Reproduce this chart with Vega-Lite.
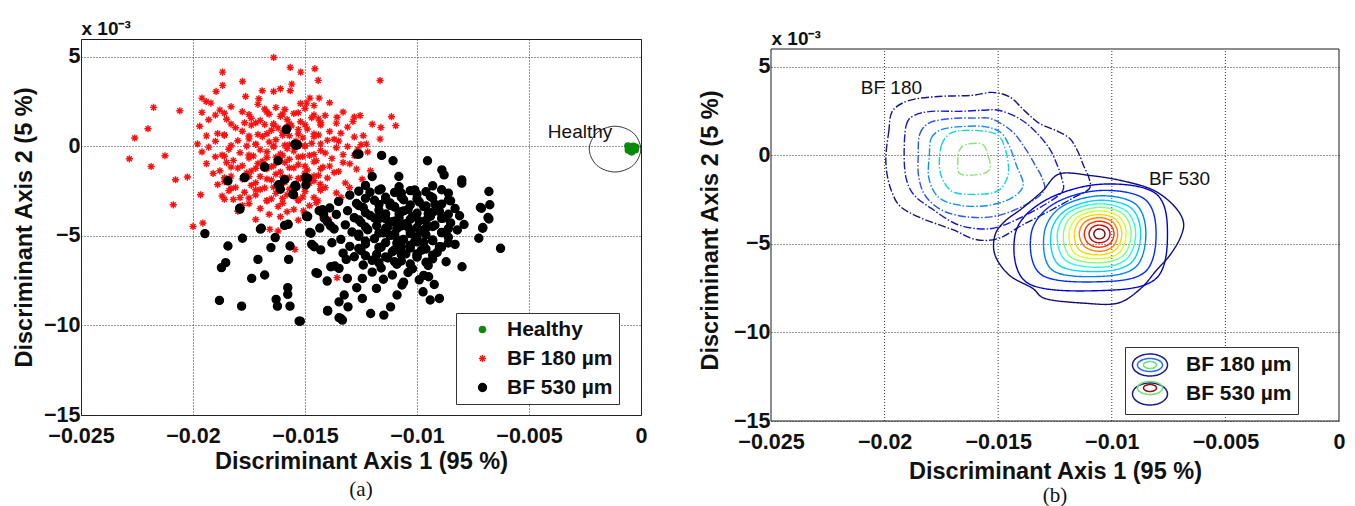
{
  "$schema": "https://vega.github.io/schema/vega-lite/v6.json",
  "background": "white",
  "padding": {"left": 12, "top": 18, "right": 0, "bottom": 0},
  "spacing": 50,
  "resolve": {
    "scale": {"fill": "independent", "stroke": "independent", "shape": "independent", "size": "independent", "color": "independent", "strokeDash": "independent"},
    "legend": {"fill": "independent", "stroke": "independent", "shape": "independent", "size": "independent", "color": "independent", "strokeDash": "independent"}
  },
  "config": {
    "view": {"stroke": "#1a1a1a", "strokeWidth": 1},
    "font": "Liberation Sans",
    "axis": {
      "labelFont": "Liberation Sans", "labelFontSize": 21.5, "labelFontWeight": "bold", "labelColor": "#111",
      "titleFont": "Liberation Sans", "titleFontSize": 23.5, "titleFontWeight": "bold", "titleColor": "#111",
      "ticks": false, "domain": false, "grid": true, "gridColor": "#333", "gridDash": [1, 2], "gridWidth": 1, "gridOpacity": 1,
      "labelOverlap": false, "labelFlush": false, "labelBound": false
    },
    "title": {"font": "Liberation Serif", "fontSize": 21, "fontWeight": "normal", "color": "#111"}
  },
  "datasets": {
    "scatter": [
      {"g":"BF 180 µm","x":-0.0192,"y":2.42},{"g":"BF 180 µm","x":-0.0183,"y":2.22},{"g":"BF 180 µm","x":-0.0171,"y":2.35},{"g":"BF 180 µm","x":-0.0163,"y":2.17},{"g":"BF 180 µm","x":-0.0152,"y":2.40},{"g":"BF 180 µm","x":-0.0146,"y":2.28},{"g":"BF 180 µm","x":-0.0139,"y":2.44},
      {"g":"BF 180 µm","x":-0.0196,"y":1.90},{"g":"BF 180 µm","x":-0.0188,"y":2.03},{"g":"BF 180 µm","x":-0.0178,"y":1.94},{"g":"BF 180 µm","x":-0.0168,"y":2.09},{"g":"BF 180 µm","x":-0.0159,"y":2.06},{"g":"BF 180 µm","x":-0.0150,"y":2.12},{"g":"BF 180 µm","x":-0.0133,"y":1.92},
      {"g":"BF 180 µm","x":-0.0190,"y":1.75},{"g":"BF 180 µm","x":-0.0174,"y":1.57},{"g":"BF 180 µm","x":-0.0166,"y":1.80},{"g":"BF 180 µm","x":-0.0161,"y":1.68},{"g":"BF 180 µm","x":-0.0155,"y":1.84},{"g":"BF 180 µm","x":-0.0147,"y":1.60},{"g":"BF 180 µm","x":-0.0141,"y":1.73},{"g":"BF 180 µm","x":-0.0128,"y":1.64},
      {"g":"BF 180 µm","x":-0.0193,"y":1.49},{"g":"BF 180 µm","x":-0.0185,"y":1.52},{"g":"BF 180 µm","x":-0.0177,"y":1.32},{"g":"BF 180 µm","x":-0.0170,"y":1.45},{"g":"BF 180 µm","x":-0.0164,"y":1.27},{"g":"BF 180 µm","x":-0.0158,"y":1.50},{"g":"BF 180 µm","x":-0.0152,"y":1.38},{"g":"BF 180 µm","x":-0.0144,"y":1.54},{"g":"BF 180 µm","x":-0.0136,"y":1.30},
      {"g":"BF 180 µm","x":-0.0197,"y":1.13},{"g":"BF 180 µm","x":-0.0181,"y":1.04},{"g":"BF 180 µm","x":-0.0174,"y":1.19},{"g":"BF 180 µm","x":-0.0168,"y":1.22},{"g":"BF 180 µm","x":-0.0162,"y":1.02},{"g":"BF 180 µm","x":-0.0156,"y":1.15},{"g":"BF 180 µm","x":-0.0149,"y":0.97},{"g":"BF 180 µm","x":-0.0143,"y":1.20},{"g":"BF 180 µm","x":-0.0131,"y":1.08},{"g":"BF 180 µm","x":-0.0120,"y":1.24},
      {"g":"BF 180 µm","x":-0.0189,"y":0.72},{"g":"BF 180 µm","x":-0.0178,"y":0.85},{"g":"BF 180 µm","x":-0.0171,"y":0.67},{"g":"BF 180 µm","x":-0.0165,"y":0.90},{"g":"BF 180 µm","x":-0.0160,"y":0.78},{"g":"BF 180 µm","x":-0.0153,"y":0.94},{"g":"BF 180 µm","x":-0.0146,"y":0.70},{"g":"BF 180 µm","x":-0.0139,"y":0.83},{"g":"BF 180 µm","x":-0.0134,"y":0.74},
      {"g":"BF 180 µm","x":-0.0194,"y":0.59},{"g":"BF 180 µm","x":-0.0186,"y":0.62},{"g":"BF 180 µm","x":-0.0175,"y":0.42},{"g":"BF 180 µm","x":-0.0169,"y":0.55},{"g":"BF 180 µm","x":-0.0163,"y":0.37},{"g":"BF 180 µm","x":-0.0157,"y":0.60},{"g":"BF 180 µm","x":-0.0151,"y":0.48},{"g":"BF 180 µm","x":-0.0144,"y":0.64},{"g":"BF 180 µm","x":-0.0137,"y":0.40},{"g":"BF 180 µm","x":-0.0128,"y":0.53},
      {"g":"BF 180 µm","x":-0.0198,"y":0.14},{"g":"BF 180 µm","x":-0.0190,"y":0.29},{"g":"BF 180 µm","x":-0.0180,"y":0.32},{"g":"BF 180 µm","x":-0.0172,"y":0.12},{"g":"BF 180 µm","x":-0.0166,"y":0.25},{"g":"BF 180 µm","x":-0.0159,"y":0.07},{"g":"BF 180 µm","x":-0.0154,"y":0.30},{"g":"BF 180 µm","x":-0.0147,"y":0.18},{"g":"BF 180 µm","x":-0.0140,"y":0.34},{"g":"BF 180 µm","x":-0.0125,"y":0.10},
      {"g":"BF 180 µm","x":-0.0193,"y":-0.04},{"g":"BF 180 µm","x":-0.0184,"y":-0.16},{"g":"BF 180 µm","x":-0.0176,"y":0.02},{"g":"BF 180 µm","x":-0.0170,"y":-0.19},{"g":"BF 180 µm","x":-0.0164,"y":0.03},{"g":"BF 180 µm","x":-0.0158,"y":-0.12},{"g":"BF 180 µm","x":-0.0150,"y":0.04},{"g":"BF 180 µm","x":-0.0143,"y":-0.23},{"g":"BF 180 µm","x":-0.0136,"y":-0.07},{"g":"BF 180 µm","x":-0.0131,"y":0.0},
      {"g":"BF 180 µm","x":-0.0196,"y":-0.31},{"g":"BF 180 µm","x":-0.0187,"y":-0.48},{"g":"BF 180 µm","x":-0.0179,"y":-0.35},{"g":"BF 180 µm","x":-0.0173,"y":-0.53},{"g":"BF 180 µm","x":-0.0167,"y":-0.30},{"g":"BF 180 µm","x":-0.0161,"y":-0.42},{"g":"BF 180 µm","x":-0.0155,"y":-0.26},{"g":"BF 180 µm","x":-0.0148,"y":-0.50},{"g":"BF 180 µm","x":-0.0141,"y":-0.37},{"g":"BF 180 µm","x":-0.0133,"y":-0.46},{"g":"BF 180 µm","x":-0.0122,"y":-0.31},
      {"g":"BF 180 µm","x":-0.0190,"y":-0.58},{"g":"BF 180 µm","x":-0.0182,"y":-0.78},{"g":"BF 180 µm","x":-0.0175,"y":-0.65},{"g":"BF 180 µm","x":-0.0169,"y":-0.83},{"g":"BF 180 µm","x":-0.0163,"y":-0.60},{"g":"BF 180 µm","x":-0.0157,"y":-0.72},{"g":"BF 180 µm","x":-0.0151,"y":-0.56},{"g":"BF 180 µm","x":-0.0145,"y":-0.80},{"g":"BF 180 µm","x":-0.0138,"y":-0.67},
      {"g":"BF 180 µm","x":-0.0194,"y":-0.96},{"g":"BF 180 µm","x":-0.0185,"y":-0.90},{"g":"BF 180 µm","x":-0.0178,"y":-1.08},{"g":"BF 180 µm","x":-0.0171,"y":-0.95},{"g":"BF 180 µm","x":-0.0165,"y":-1.13},{"g":"BF 180 µm","x":-0.0159,"y":-0.90},{"g":"BF 180 µm","x":-0.0153,"y":-1.02},{"g":"BF 180 µm","x":-0.0146,"y":-0.86},{"g":"BF 180 µm","x":-0.0139,"y":-1.10},{"g":"BF 180 µm","x":-0.0130,"y":-0.97},
      {"g":"BF 180 µm","x":-0.0188,"y":-1.36},{"g":"BF 180 µm","x":-0.0180,"y":-1.21},{"g":"BF 180 µm","x":-0.0174,"y":-1.38},{"g":"BF 180 µm","x":-0.0167,"y":-1.25},{"g":"BF 180 µm","x":-0.0161,"y":-1.43},{"g":"BF 180 µm","x":-0.0155,"y":-1.20},{"g":"BF 180 µm","x":-0.0149,"y":-1.32},{"g":"BF 180 µm","x":-0.0142,"y":-1.16},{"g":"BF 180 µm","x":-0.0135,"y":-1.40},{"g":"BF 180 µm","x":-0.0127,"y":-1.27},
      {"g":"BF 180 µm","x":-0.0191,"y":-1.51},{"g":"BF 180 µm","x":-0.0183,"y":-1.66},{"g":"BF 180 µm","x":-0.0176,"y":-1.48},{"g":"BF 180 µm","x":-0.0170,"y":-1.68},{"g":"BF 180 µm","x":-0.0163,"y":-1.55},{"g":"BF 180 µm","x":-0.0157,"y":-1.73},{"g":"BF 180 µm","x":-0.0150,"y":-1.50},{"g":"BF 180 µm","x":-0.0144,"y":-1.62},{"g":"BF 180 µm","x":-0.0137,"y":-1.46},
      {"g":"BF 180 µm","x":-0.0186,"y":-1.96},{"g":"BF 180 µm","x":-0.0178,"y":-1.81},{"g":"BF 180 µm","x":-0.0172,"y":-2.03},{"g":"BF 180 µm","x":-0.0165,"y":-1.88},{"g":"BF 180 µm","x":-0.0159,"y":-2.00},{"g":"BF 180 µm","x":-0.0152,"y":-1.80},{"g":"BF 180 µm","x":-0.0146,"y":-1.92},{"g":"BF 180 µm","x":-0.0140,"y":-1.76},{"g":"BF 180 µm","x":-0.0132,"y":-2.04},
      {"g":"BF 180 µm","x":-0.0189,"y":-2.13},{"g":"BF 180 µm","x":-0.0181,"y":-2.29},{"g":"BF 180 µm","x":-0.0174,"y":-2.17},{"g":"BF 180 µm","x":-0.0168,"y":-2.32},{"g":"BF 180 µm","x":-0.0161,"y":-2.10},{"g":"BF 180 µm","x":-0.0155,"y":-2.22},{"g":"BF 180 µm","x":-0.0148,"y":-2.06},{"g":"BF 180 µm","x":-0.0141,"y":-2.30},
      {"g":"BF 180 µm","x":-0.0184,"y":-2.47},{"g":"BF 180 µm","x":-0.0177,"y":-2.56},{"g":"BF 180 µm","x":-0.0170,"y":-2.41},{"g":"BF 180 µm","x":-0.0163,"y":-2.62},{"g":"BF 180 µm","x":-0.0156,"y":-2.38},{"g":"BF 180 µm","x":-0.0150,"y":-2.52},{"g":"BF 180 µm","x":-0.0143,"y":-2.36},{"g":"BF 180 µm","x":-0.0136,"y":-2.60},
      {"g":"BF 180 µm","x":-0.0187,"y":-2.77},{"g":"BF 180 µm","x":-0.0179,"y":-2.86},{"g":"BF 180 µm","x":-0.0172,"y":-2.71},{"g":"BF 180 µm","x":-0.0165,"y":-2.93},{"g":"BF 180 µm","x":-0.0158,"y":-2.70},{"g":"BF 180 µm","x":-0.0151,"y":-2.82},
      {"g":"BF 180 µm","x":-0.0182,"y":-2.96},{"g":"BF 180 µm","x":-0.0175,"y":-3.20},{"g":"BF 180 µm","x":-0.0167,"y":-3.04},{"g":"BF 180 µm","x":-0.0160,"y":-3.17},{"g":"BF 180 µm","x":-0.0153,"y":-3.02},{"g":"BF 180 µm","x":-0.0145,"y":-3.14},
      {"g":"BF 180 µm","x":-0.0178,"y":-3.30},{"g":"BF 180 µm","x":-0.0170,"y":-3.47},{"g":"BF 180 µm","x":-0.0162,"y":-3.36},{"g":"BF 180 µm","x":-0.0155,"y":-3.52},{"g":"BF 180 µm","x":-0.0148,"y":-3.31},
      {"g":"BF 180 µm","x":-0.0180,"y":-3.62},{"g":"BF 180 µm","x":-0.0166,"y":-3.79},{"g":"BF 180 µm","x":-0.0158,"y":-3.65},{"g":"BF 180 µm","x":-0.0150,"y":-3.83},
      {"g":"BF 180 µm","x":-0.0172,"y":-4.08},{"g":"BF 180 µm","x":-0.0161,"y":-3.93},{"g":"BF 180 µm","x":-0.0153,"y":-4.12},
      {"g":"BF 180 µm","x":-0.0186,"y":1.85},{"g":"BF 180 µm","x":-0.0175,"y":1.78},{"g":"BF 180 µm","x":-0.0167,"y":1.92},{"g":"BF 180 µm","x":-0.0160,"y":1.81},{"g":"BF 180 µm","x":-0.0153,"y":1.88},{"g":"BF 180 µm","x":-0.0146,"y":1.76},
      {"g":"BF 180 µm","x":-0.0183,"y":1.25},{"g":"BF 180 µm","x":-0.0172,"y":1.31},{"g":"BF 180 µm","x":-0.0164,"y":1.18},{"g":"BF 180 µm","x":-0.0157,"y":1.28},{"g":"BF 180 µm","x":-0.0150,"y":1.21},{"g":"BF 180 µm","x":-0.0143,"y":1.34},
      {"g":"BF 180 µm","x":-0.0186,"y":0.65},{"g":"BF 180 µm","x":-0.0175,"y":0.58},{"g":"BF 180 µm","x":-0.0167,"y":0.71},{"g":"BF 180 µm","x":-0.0160,"y":0.62},{"g":"BF 180 µm","x":-0.0153,"y":0.69},{"g":"BF 180 µm","x":-0.0146,"y":0.55},
      {"g":"BF 180 µm","x":-0.0183,"y":0.05},{"g":"BF 180 µm","x":-0.0172,"y":0.12},{"g":"BF 180 µm","x":-0.0164,"y":-0.02},{"g":"BF 180 µm","x":-0.0157,"y":0.09},{"g":"BF 180 µm","x":-0.0150,"y":0.01},{"g":"BF 180 µm","x":-0.0143,"y":0.14},
      {"g":"BF 180 µm","x":-0.0186,"y":-0.55},{"g":"BF 180 µm","x":-0.0175,"y":-0.48},{"g":"BF 180 µm","x":-0.0167,"y":-0.62},{"g":"BF 180 µm","x":-0.0160,"y":-0.51},{"g":"BF 180 µm","x":-0.0153,"y":-0.59},{"g":"BF 180 µm","x":-0.0146,"y":-0.45},
      {"g":"BF 180 µm","x":-0.0183,"y":-1.15},{"g":"BF 180 µm","x":-0.0172,"y":-1.22},{"g":"BF 180 µm","x":-0.0164,"y":-1.08},{"g":"BF 180 µm","x":-0.0157,"y":-1.19},{"g":"BF 180 µm","x":-0.0150,"y":-1.11},{"g":"BF 180 µm","x":-0.0143,"y":-1.25},
      {"g":"BF 180 µm","x":-0.0186,"y":-1.75},{"g":"BF 180 µm","x":-0.0175,"y":-1.68},{"g":"BF 180 µm","x":-0.0167,"y":-1.82},{"g":"BF 180 µm","x":-0.0160,"y":-1.71},{"g":"BF 180 µm","x":-0.0153,"y":-1.79},{"g":"BF 180 µm","x":-0.0146,"y":-1.65},
      {"g":"BF 180 µm","x":-0.0183,"y":-2.35},{"g":"BF 180 µm","x":-0.0172,"y":-2.42},{"g":"BF 180 µm","x":-0.0164,"y":-2.28},{"g":"BF 180 µm","x":-0.0157,"y":-2.39},{"g":"BF 180 µm","x":-0.0150,"y":-2.31},{"g":"BF 180 µm","x":-0.0143,"y":-2.45},
      {"g":"BF 180 µm","x":-0.0186,"y":-2.95},{"g":"BF 180 µm","x":-0.0175,"y":-2.88},{"g":"BF 180 µm","x":-0.0167,"y":-3.02},{"g":"BF 180 µm","x":-0.0160,"y":-2.91},{"g":"BF 180 µm","x":-0.0153,"y":-2.99},{"g":"BF 180 µm","x":-0.0146,"y":-2.85},
      {"g":"BF 180 µm","x":-0.02284,"y":-0.69},{"g":"BF 180 µm","x":-0.0226,"y":0.47},{"g":"BF 180 µm","x":-0.02201,"y":0.99},{"g":"BF 180 µm","x":-0.02176,"y":2.18},{"g":"BF 180 µm","x":-0.02187,"y":-1.12},{"g":"BF 180 µm","x":-0.02125,"y":-0.52},{"g":"BF 180 µm","x":-0.02059,"y":1.99},{"g":"BF 180 µm","x":-0.02078,"y":-1.86},{"g":"BF 180 µm","x":-0.02025,"y":-1.71},{"g":"BF 180 µm","x":-0.02088,"y":-3.26},{"g":"BF 180 µm","x":-0.0200,"y":-4.47},{"g":"BF 180 µm","x":-0.01966,"y":-2.70},{"g":"BF 180 µm","x":-0.01956,"y":-4.28},
      {"g":"BF 180 µm","x":-0.0164,"y":4.97},{"g":"BF 180 µm","x":-0.01868,"y":4.15},{"g":"BF 180 µm","x":-0.01566,"y":4.41},{"g":"BF 180 µm","x":-0.01519,"y":4.15},{"g":"BF 180 µm","x":-0.01456,"y":4.34},{"g":"BF 180 µm","x":-0.01441,"y":3.69},{"g":"BF 180 µm","x":-0.01779,"y":3.63},{"g":"BF 180 µm","x":-0.01868,"y":3.41},{"g":"BF 180 µm","x":-0.01897,"y":3.07},{"g":"BF 180 µm","x":-0.01691,"y":3.11},{"g":"BF 180 µm","x":-0.0164,"y":3.07},{"g":"BF 180 µm","x":-0.0161,"y":3.22},{"g":"BF 180 µm","x":-0.01559,"y":3.48},{"g":"BF 180 µm","x":-0.01566,"y":3.11},{"g":"BF 180 µm","x":-0.01765,"y":2.79},{"g":"BF 180 µm","x":-0.01706,"y":2.66},{"g":"BF 180 µm","x":-0.0196,"y":2.70},{"g":"BF 180 µm","x":-0.01941,"y":2.51},{"g":"BF 180 µm","x":-0.01478,"y":2.70},{"g":"BF 180 µm","x":-0.01437,"y":2.70},{"g":"BF 180 µm","x":-0.01493,"y":2.42},
      {"g":"BF 180 µm","x":-0.01165,"y":3.68},{"g":"BF 180 µm","x":-0.01114,"y":1.66},{"g":"BF 180 µm","x":-0.01095,"y":1.16},{"g":"BF 180 µm","x":-0.01161,"y":1.06},{"g":"BF 180 µm","x":-0.01165,"y":0.41},{"g":"BF 180 µm","x":-0.01357,"y":1.63},{"g":"BF 180 µm","x":-0.01254,"y":1.72},{"g":"BF 180 µm","x":-0.01286,"y":1.40},{"g":"BF 180 µm","x":-0.01226,"y":0.13},{"g":"BF 180 µm","x":-0.01264,"y":-0.15},{"g":"BF 180 µm","x":-0.01208,"y":-1.36},{"g":"BF 180 µm","x":-0.01545,"y":-5.75},{"g":"BF 180 µm","x":-0.01357,"y":-7.33},{"g":"BF 180 µm","x":-0.01442,"y":-3.04},{"g":"BF 180 µm","x":-0.01395,"y":-4.07},{"g":"BF 180 µm","x":-0.01657,"y":-4.63},{"g":"BF 180 µm","x":-0.01301,"y":-2.29},{"g":"BF 180 µm","x":-0.01245,"y":-1.83},{"g":"BF 180 µm","x":-0.01339,"y":-2.85},{"g":"BF 180 µm","x":-0.01507,"y":-3.60},{"g":"BF 180 µm","x":-0.01432,"y":-2.11},{"g":"BF 180 µm","x":-0.0162,"y":-4.72},{"g":"BF 180 µm","x":-0.0133,"y":-0.9},{"g":"BF 180 µm","x":-0.0128,"y":-0.5},{"g":"BF 180 µm","x":-0.0124,"y":0.6},{"g":"BF 180 µm","x":-0.0135,"y":0.3},

      {"g":"BF 530 µm","x":-0.0123,"y":-2.18},{"g":"BF 530 µm","x":-0.0116,"y":-2.38},{"g":"BF 530 µm","x":-0.0108,"y":-2.25},{"g":"BF 530 µm","x":-0.0101,"y":-2.43},{"g":"BF 530 µm","x":-0.0093,"y":-2.20},
      {"g":"BF 530 µm","x":-0.0130,"y":-2.72},{"g":"BF 530 µm","x":-0.0121,"y":-2.56},{"g":"BF 530 µm","x":-0.0114,"y":-2.84},{"g":"BF 530 µm","x":-0.0107,"y":-2.60},{"g":"BF 530 µm","x":-0.0100,"y":-2.67},{"g":"BF 530 µm","x":-0.0094,"y":-2.79},{"g":"BF 530 µm","x":-0.0086,"y":-2.61},
      {"g":"BF 530 µm","x":-0.0135,"y":-3.07},{"g":"BF 530 µm","x":-0.0127,"y":-3.19},{"g":"BF 530 µm","x":-0.0119,"y":-3.01},{"g":"BF 530 µm","x":-0.0112,"y":-3.16},{"g":"BF 530 µm","x":-0.0106,"y":-2.98},{"g":"BF 530 µm","x":-0.0099,"y":-3.10},{"g":"BF 530 µm","x":-0.0092,"y":-3.23},{"g":"BF 530 µm","x":-0.0085,"y":-3.04},
      {"g":"BF 530 µm","x":-0.0139,"y":-3.44},{"g":"BF 530 µm","x":-0.0131,"y":-3.59},{"g":"BF 530 µm","x":-0.0124,"y":-3.41},{"g":"BF 530 µm","x":-0.0117,"y":-3.56},{"g":"BF 530 µm","x":-0.0110,"y":-3.38},{"g":"BF 530 µm","x":-0.0104,"y":-3.52},{"g":"BF 530 µm","x":-0.0097,"y":-3.36},{"g":"BF 530 µm","x":-0.0090,"y":-3.63},{"g":"BF 530 µm","x":-0.0083,"y":-3.47},
      {"g":"BF 530 µm","x":-0.0136,"y":-3.80},{"g":"BF 530 µm","x":-0.0128,"y":-3.98},{"g":"BF 530 µm","x":-0.0121,"y":-3.85},{"g":"BF 530 µm","x":-0.0114,"y":-4.03},{"g":"BF 530 µm","x":-0.0108,"y":-3.78},{"g":"BF 530 µm","x":-0.0102,"y":-3.92},{"g":"BF 530 µm","x":-0.0095,"y":-3.76},{"g":"BF 530 µm","x":-0.0088,"y":-4.00},{"g":"BF 530 µm","x":-0.0081,"y":-3.87},
      {"g":"BF 530 µm","x":-0.0140,"y":-4.21},{"g":"BF 530 µm","x":-0.0132,"y":-4.38},{"g":"BF 530 µm","x":-0.0125,"y":-4.25},{"g":"BF 530 µm","x":-0.0118,"y":-4.43},{"g":"BF 530 µm","x":-0.0111,"y":-4.20},{"g":"BF 530 µm","x":-0.0105,"y":-4.32},{"g":"BF 530 µm","x":-0.0099,"y":-4.16},{"g":"BF 530 µm","x":-0.0092,"y":-4.40},{"g":"BF 530 µm","x":-0.0085,"y":-4.27},{"g":"BF 530 µm","x":-0.0079,"y":-4.36},
      {"g":"BF 530 µm","x":-0.0137,"y":-4.61},{"g":"BF 530 µm","x":-0.0129,"y":-4.78},{"g":"BF 530 µm","x":-0.0122,"y":-4.65},{"g":"BF 530 µm","x":-0.0115,"y":-4.83},{"g":"BF 530 µm","x":-0.0109,"y":-4.60},{"g":"BF 530 µm","x":-0.0103,"y":-4.72},{"g":"BF 530 µm","x":-0.0096,"y":-4.56},{"g":"BF 530 µm","x":-0.0089,"y":-4.80},{"g":"BF 530 µm","x":-0.0082,"y":-4.67},
      {"g":"BF 530 µm","x":-0.0134,"y":-5.19},{"g":"BF 530 µm","x":-0.0126,"y":-5.02},{"g":"BF 530 µm","x":-0.0119,"y":-5.15},{"g":"BF 530 µm","x":-0.0112,"y":-4.97},{"g":"BF 530 µm","x":-0.0106,"y":-5.20},{"g":"BF 530 µm","x":-0.0100,"y":-5.04},{"g":"BF 530 µm","x":-0.0093,"y":-5.23},{"g":"BF 530 µm","x":-0.0086,"y":-5.07},
      {"g":"BF 530 µm","x":-0.0138,"y":-5.38},{"g":"BF 530 µm","x":-0.0130,"y":-5.58},{"g":"BF 530 µm","x":-0.0123,"y":-5.45},{"g":"BF 530 µm","x":-0.0116,"y":-5.63},{"g":"BF 530 µm","x":-0.0109,"y":-5.40},{"g":"BF 530 µm","x":-0.0103,"y":-5.52},{"g":"BF 530 µm","x":-0.0097,"y":-5.36},{"g":"BF 530 µm","x":-0.0090,"y":-5.60},{"g":"BF 530 µm","x":-0.0083,"y":-5.47},
      {"g":"BF 530 µm","x":-0.0133,"y":-5.96},{"g":"BF 530 µm","x":-0.0125,"y":-5.81},{"g":"BF 530 µm","x":-0.0118,"y":-6.03},{"g":"BF 530 µm","x":-0.0111,"y":-5.88},{"g":"BF 530 µm","x":-0.0105,"y":-6.00},{"g":"BF 530 µm","x":-0.0098,"y":-5.80},{"g":"BF 530 µm","x":-0.0091,"y":-5.92},
      {"g":"BF 530 µm","x":-0.0128,"y":-6.16},{"g":"BF 530 µm","x":-0.0120,"y":-6.36},{"g":"BF 530 µm","x":-0.0113,"y":-6.23},{"g":"BF 530 µm","x":-0.0107,"y":-6.40},{"g":"BF 530 µm","x":-0.0100,"y":-6.18},{"g":"BF 530 µm","x":-0.0093,"y":-6.28},{"g":"BF 530 µm","x":-0.0087,"y":-6.44},
      {"g":"BF 530 µm","x":-0.0124,"y":-6.62},{"g":"BF 530 µm","x":-0.0116,"y":-6.79},{"g":"BF 530 µm","x":-0.0109,"y":-6.58},{"g":"BF 530 µm","x":-0.0102,"y":-6.83},{"g":"BF 530 µm","x":-0.0095,"y":-6.65},
      {"g":"BF 530 µm","x":-0.0120,"y":-7.02},{"g":"BF 530 µm","x":-0.0111,"y":-7.18},{"g":"BF 530 µm","x":-0.0104,"y":-7.04},{"g":"BF 530 µm","x":-0.0097,"y":-7.20},
      {"g":"BF 530 µm","x":-0.0115,"y":-7.42},{"g":"BF 530 µm","x":-0.0106,"y":-7.58},{"g":"BF 530 µm","x":-0.0099,"y":-7.45},
      {"g":"BF 530 µm","x":-0.0108,"y":-4.0},{"g":"BF 530 µm","x":-0.0104,"y":-4.5},{"g":"BF 530 µm","x":-0.0110,"y":-4.9},{"g":"BF 530 µm","x":-0.0101,"y":-5.3},{"g":"BF 530 µm","x":-0.0106,"y":-3.6},{"g":"BF 530 µm","x":-0.0113,"y":-4.5},{"g":"BF 530 µm","x":-0.0098,"y":-4.7},{"g":"BF 530 µm","x":-0.0107,"y":-5.6},{"g":"BF 530 µm","x":-0.0119,"y":-4.0},{"g":"BF 530 µm","x":-0.0094,"y":-3.9},{"g":"BF 530 µm","x":-0.0112,"y":-3.3},{"g":"BF 530 µm","x":-0.0100,"y":-6.0},
      {"g":"BF 530 µm","x":-0.0126,"y":-2.50},{"g":"BF 530 µm","x":-0.0117,"y":-2.44},{"g":"BF 530 µm","x":-0.0110,"y":-2.57},{"g":"BF 530 µm","x":-0.0103,"y":-2.47},{"g":"BF 530 µm","x":-0.0096,"y":-2.53},{"g":"BF 530 µm","x":-0.0089,"y":-2.42},
      {"g":"BF 530 µm","x":-0.0123,"y":-2.90},{"g":"BF 530 µm","x":-0.0114,"y":-2.97},{"g":"BF 530 µm","x":-0.0107,"y":-2.84},{"g":"BF 530 µm","x":-0.0100,"y":-2.93},{"g":"BF 530 µm","x":-0.0093,"y":-2.87},{"g":"BF 530 µm","x":-0.0086,"y":-2.99},
      {"g":"BF 530 µm","x":-0.0126,"y":-3.30},{"g":"BF 530 µm","x":-0.0117,"y":-3.24},{"g":"BF 530 µm","x":-0.0110,"y":-3.37},{"g":"BF 530 µm","x":-0.0103,"y":-3.27},{"g":"BF 530 µm","x":-0.0096,"y":-3.33},{"g":"BF 530 µm","x":-0.0089,"y":-3.22},
      {"g":"BF 530 µm","x":-0.0123,"y":-3.70},{"g":"BF 530 µm","x":-0.0114,"y":-3.77},{"g":"BF 530 µm","x":-0.0107,"y":-3.64},{"g":"BF 530 µm","x":-0.0100,"y":-3.73},{"g":"BF 530 µm","x":-0.0093,"y":-3.67},{"g":"BF 530 µm","x":-0.0086,"y":-3.79},
      {"g":"BF 530 µm","x":-0.0126,"y":-4.10},{"g":"BF 530 µm","x":-0.0117,"y":-4.04},{"g":"BF 530 µm","x":-0.0110,"y":-4.17},{"g":"BF 530 µm","x":-0.0103,"y":-4.07},{"g":"BF 530 µm","x":-0.0096,"y":-4.13},{"g":"BF 530 µm","x":-0.0089,"y":-4.02},
      {"g":"BF 530 µm","x":-0.0123,"y":-4.50},{"g":"BF 530 µm","x":-0.0114,"y":-4.57},{"g":"BF 530 µm","x":-0.0107,"y":-4.44},{"g":"BF 530 µm","x":-0.0100,"y":-4.53},{"g":"BF 530 µm","x":-0.0093,"y":-4.47},{"g":"BF 530 µm","x":-0.0086,"y":-4.59},
      {"g":"BF 530 µm","x":-0.0126,"y":-4.90},{"g":"BF 530 µm","x":-0.0117,"y":-4.84},{"g":"BF 530 µm","x":-0.0110,"y":-4.97},{"g":"BF 530 µm","x":-0.0103,"y":-4.87},{"g":"BF 530 µm","x":-0.0096,"y":-4.93},{"g":"BF 530 µm","x":-0.0089,"y":-4.82},
      {"g":"BF 530 µm","x":-0.0123,"y":-5.30},{"g":"BF 530 µm","x":-0.0114,"y":-5.37},{"g":"BF 530 µm","x":-0.0107,"y":-5.24},{"g":"BF 530 µm","x":-0.0100,"y":-5.33},{"g":"BF 530 µm","x":-0.0093,"y":-5.27},{"g":"BF 530 µm","x":-0.0086,"y":-5.39},
      {"g":"BF 530 µm","x":-0.0126,"y":-5.70},{"g":"BF 530 µm","x":-0.0117,"y":-5.64},{"g":"BF 530 µm","x":-0.0110,"y":-5.77},{"g":"BF 530 µm","x":-0.0103,"y":-5.67},{"g":"BF 530 µm","x":-0.0096,"y":-5.73},{"g":"BF 530 µm","x":-0.0089,"y":-5.62},
      {"g":"BF 530 µm","x":-0.0123,"y":-6.10},{"g":"BF 530 µm","x":-0.0114,"y":-6.17},{"g":"BF 530 µm","x":-0.0107,"y":-6.04},{"g":"BF 530 µm","x":-0.0100,"y":-6.13},{"g":"BF 530 µm","x":-0.0093,"y":-6.07},
      {"g":"BF 530 µm","x":-0.0117,"y":-6.50},{"g":"BF 530 µm","x":-0.0110,"y":-6.44},{"g":"BF 530 µm","x":-0.0103,"y":-6.57},{"g":"BF 530 µm","x":-0.0096,"y":-6.47},
      {"g":"BF 530 µm","x":-0.00953,"y":-0.80},{"g":"BF 530 µm","x":-0.00889,"y":-1.31},{"g":"BF 530 µm","x":-0.00879,"y":-1.59},{"g":"BF 530 µm","x":-0.008,"y":-1.87},{"g":"BF 530 µm","x":-0.008,"y":-2.05},{"g":"BF 530 µm","x":-0.00679,"y":-2.52},{"g":"BF 530 µm","x":-0.00675,"y":-3.26},{"g":"BF 530 µm","x":-0.00712,"y":-3.45},{"g":"BF 530 µm","x":-0.00679,"y":-4.05},{"g":"BF 530 µm","x":-0.00707,"y":-4.57},{"g":"BF 530 µm","x":-0.00724,"y":-5.13},{"g":"BF 530 µm","x":-0.00627,"y":-5.69},{"g":"BF 530 µm","x":-0.00799,"y":-6.72},{"g":"BF 530 µm","x":-0.00923,"y":-7.71},{"g":"BF 530 µm","x":-0.009,"y":-8.49},{"g":"BF 530 µm","x":-0.00941,"y":-8.58},{"g":"BF 530 µm","x":-0.01118,"y":-8.96},{"g":"BF 530 µm","x":-0.01207,"y":-9.33},{"g":"BF 530 µm","x":-0.0134,"y":-9.61},{"g":"BF 530 µm","x":-0.01333,"y":-9.70},{"g":"BF 530 µm","x":-0.01399,"y":-9.20},{"g":"BF 530 µm","x":-0.01308,"y":-8.96},{"g":"BF 530 µm","x":-0.01348,"y":-8.68},{"g":"BF 530 µm","x":-0.01244,"y":-8.49},{"g":"BF 530 µm","x":-0.01181,"y":-7.93},{"g":"BF 530 µm","x":-0.01269,"y":-7.89},{"g":"BF 530 µm","x":-0.01325,"y":-8.30},{"g":"BF 530 µm","x":-0.01148,"y":-9.42},{"g":"BF 530 µm","x":-0.01089,"y":-8.30},{"g":"BF 530 µm","x":-0.01067,"y":-7.74},{"g":"BF 530 µm","x":-0.00973,"y":-8.12},{"g":"BF 530 µm","x":-0.00948,"y":-7.28},{"g":"BF 530 µm","x":-0.01444,"y":-7.09},{"g":"BF 530 µm","x":-0.01385,"y":-6.72},{"g":"BF 530 µm","x":-0.01348,"y":-6.81},{"g":"BF 530 µm","x":-0.01311,"y":-7.37},{"g":"BF 530 µm","x":-0.01244,"y":-7.37},{"g":"BF 530 µm","x":-0.01521,"y":-9.76},{"g":"BF 530 µm","x":-0.01259,"y":-0.43},{"g":"BF 530 µm","x":-0.01158,"y":-0.50},{"g":"BF 530 µm","x":-0.01107,"y":-0.80},{"g":"BF 530 µm","x":-0.01081,"y":-1.68},{"g":"BF 530 µm","x":-0.012,"y":-1.68},{"g":"BF 530 µm","x":-0.01533,"y":0.09},{"g":"BF 530 µm","x":-0.01488,"y":-1.77},{"g":"BF 530 µm","x":-0.0154,"y":-2.24},{"g":"BF 530 µm","x":-0.01488,"y":-3.92},{"g":"BF 530 µm","x":-0.01422,"y":-3.54},{"g":"BF 530 µm","x":-0.01414,"y":-4.01},{"g":"BF 530 µm","x":-0.01473,"y":-4.85},{"g":"BF 530 µm","x":-0.01459,"y":-5.60},{"g":"BF 530 µm","x":-0.0143,"y":-5.78},
      {"g":"BF 530 µm","x":-0.01947,"y":-4.87},{"g":"BF 530 µm","x":-0.01844,"y":-1.92},{"g":"BF 530 µm","x":-0.01844,"y":-5.56},{"g":"BF 530 µm","x":-0.01854,"y":-6.49},{"g":"BF 530 µm","x":-0.01873,"y":-6.77},{"g":"BF 530 µm","x":-0.01882,"y":-8.60},{"g":"BF 530 µm","x":-0.01779,"y":-5.13},{"g":"BF 530 µm","x":-0.01783,"y":-8.92},{"g":"BF 530 µm","x":-0.01792,"y":-3.45},{"g":"BF 530 µm","x":-0.0177,"y":-1.74},{"g":"BF 530 µm","x":-0.01738,"y":-7.37},{"g":"BF 530 µm","x":-0.0171,"y":-6.31},{"g":"BF 530 µm","x":-0.01695,"y":-4.57},{"g":"BF 530 µm","x":-0.0168,"y":-7.18},{"g":"BF 530 µm","x":-0.0168,"y":-1.14},{"g":"BF 530 µm","x":-0.01652,"y":-5.65},{"g":"BF 530 µm","x":-0.01633,"y":-5.09},{"g":"BF 530 µm","x":-0.01629,"y":-8.54},{"g":"BF 530 µm","x":-0.01623,"y":-8.92},{"g":"BF 530 µm","x":-0.01614,"y":-2.16},{"g":"BF 530 µm","x":-0.0161,"y":-2.39},{"g":"BF 530 µm","x":-0.0162,"y":-0.80},{"g":"BF 530 µm","x":-0.01582,"y":0.97},{"g":"BF 530 µm","x":-0.01545,"y":0.13},{"g":"BF 530 µm","x":-0.01575,"y":-4.35},{"g":"BF 530 µm","x":-0.01567,"y":-5.56},{"g":"BF 530 µm","x":-0.01573,"y":-6.31},{"g":"BF 530 µm","x":-0.01577,"y":-7.89},{"g":"BF 530 µm","x":-0.01577,"y":-8.26},{"g":"BF 530 µm","x":-0.01567,"y":-8.92},{"g":"BF 530 µm","x":-0.01554,"y":-2.67},{"g":"BF 530 µm","x":-0.01545,"y":-2.20},{"g":"BF 530 µm","x":-0.01526,"y":-9.76},{"g":"BF 530 µm","x":-0.01498,"y":-1.74},{"g":"BF 530 µm","x":-0.01492,"y":-3.88},{"g":"BF 530 µm","x":-0.01479,"y":-4.81},{"g":"BF 530 µm","x":-0.0147,"y":-5.47},{"g":"BF 530 µm","x":-0.01451,"y":-7.05},{"g":"BF 530 µm","x":-0.01417,"y":-3.79},{"g":"BF 530 µm","x":-0.01401,"y":-7.52},{"g":"BF 530 µm","x":-0.01399,"y":-9.16},{"g":"BF 530 µm","x":-0.01386,"y":-4.44},{"g":"BF 530 µm","x":-0.01367,"y":-6.68},{"g":"BF 530 µm","x":-0.01348,"y":-9.57},{"g":"BF 530 µm","x":-0.01316,"y":-6.31},{"g":"BF 530 µm","x":-0.01268,"y":-0.43},
      {"g":"BF 530 µm","x":-0.01681,"y":-1.15},{"g":"BF 530 µm","x":-0.01769,"y":-1.73},{"g":"BF 530 µm","x":-0.01591,"y":-1.86},{"g":"BF 530 µm","x":-0.01618,"y":-2.14},{"g":"BF 530 µm","x":-0.01544,"y":-2.18},{"g":"BF 530 µm","x":-0.01551,"y":-2.70},{"g":"BF 530 µm","x":-0.01493,"y":-1.81},{"g":"BF 530 µm","x":-0.01496,"y":-2.14},{"g":"BF 530 µm","x":-0.0179,"y":-3.50},{"g":"BF 530 µm","x":-0.01699,"y":-4.62},{"g":"BF 530 µm","x":-0.01591,"y":-4.41},{"g":"BF 530 µm","x":-0.01493,"y":-3.91},{"g":"BF 530 µm","x":-0.01437,"y":-3.59},{"g":"BF 530 µm","x":-0.01434,"y":-4.56},{"g":"BF 530 µm","x":-0.01584,"y":0.93},{"g":"BF 530 µm","x":-0.01541,"y":0.06},{"g":"BF 530 µm","x":-0.00717,"y":-3.41},{"g":"BF 530 µm","x":-0.00683,"y":-3.97},{"g":"BF 530 µm","x":-0.00706,"y":-4.53},
      {"g":"Healthy","x":-0.00045,"y":-0.12},{"g":"Healthy","x":-0.00034,"y":0.0},{"g":"Healthy","x":-0.00056,"y":-0.2},{"g":"Healthy","x":-0.00026,"y":-0.18},{"g":"Healthy","x":-0.00042,"y":-0.3},{"g":"Healthy","x":-0.00058,"y":0.02},{"g":"Healthy","x":-0.00024,"y":-0.05}
    ],
    "ring": [
      {"i":0,"x":-0.00001,"y":-0.15},{"i":1,"x":-0.00035,"y":0.755},{"i":2,"x":-0.00116,"y":1.13},{"i":3,"x":-0.00197,"y":0.755},{"i":4,"x":-0.00231,"y":-0.15},{"i":5,"x":-0.00197,"y":-1.055},{"i":6,"x":-0.00116,"y":-1.43},{"i":7,"x":-0.00035,"y":-1.055}
    ],
    "contours": [
      {"c":"C1","g":"BF 180 µm","i":0,"x":-0.01994,"y":0.0},{"c":"C1","g":"BF 180 µm","i":1,"x":-0.01982,"y":1.3},{"c":"C1","g":"BF 180 µm","i":2,"x":-0.01965,"y":2.5},{"c":"C1","g":"BF 180 µm","i":3,"x":-0.0189,"y":3.1},{"c":"C1","g":"BF 180 µm","i":4,"x":-0.01763,"y":3.32},{"c":"C1","g":"BF 180 µm","i":5,"x":-0.01616,"y":3.38},{"c":"C1","g":"BF 180 µm","i":6,"x":-0.01528,"y":3.55},{"c":"C1","g":"BF 180 µm","i":7,"x":-0.0145,"y":3.3},{"c":"C1","g":"BF 180 µm","i":8,"x":-0.01381,"y":2.48},{"c":"C1","g":"BF 180 µm","i":9,"x":-0.01319,"y":1.8},{"c":"C1","g":"BF 180 µm","i":10,"x":-0.01248,"y":1.41},{"c":"C1","g":"BF 180 µm","i":11,"x":-0.01186,"y":0.96},{"c":"C1","g":"BF 180 µm","i":12,"x":-0.0115,"y":0.23},{"c":"C1","g":"BF 180 µm","i":13,"x":-0.01125,"y":-0.56},{"c":"C1","g":"BF 180 µm","i":14,"x":-0.011,"y":-1.3},{"c":"C1","g":"BF 180 µm","i":15,"x":-0.011,"y":-1.9},{"c":"C1","g":"BF 180 µm","i":16,"x":-0.01172,"y":-2.42},{"c":"C1","g":"BF 180 µm","i":17,"x":-0.01275,"y":-3.15},{"c":"C1","g":"BF 180 µm","i":18,"x":-0.01394,"y":-3.94},{"c":"C1","g":"BF 180 µm","i":19,"x":-0.015,"y":-4.7},{"c":"C1","g":"BF 180 µm","i":20,"x":-0.016,"y":-4.75},{"c":"C1","g":"BF 180 µm","i":21,"x":-0.017,"y":-4.2},{"c":"C1","g":"BF 180 µm","i":22,"x":-0.01838,"y":-3.55},{"c":"C1","g":"BF 180 µm","i":23,"x":-0.0193,"y":-2.9},{"c":"C1","g":"BF 180 µm","i":24,"x":-0.0197,"y":-2.0},{"c":"C1","g":"BF 180 µm","i":25,"x":-0.0199,"y":-1.0},
      {"c":"C2","g":"BF 180 µm","i":0,"x":-0.01914,"y":0.06},{"c":"C2","g":"BF 180 µm","i":1,"x":-0.01905,"y":1.69},{"c":"C2","g":"BF 180 µm","i":2,"x":-0.0187,"y":2.25},{"c":"C2","g":"BF 180 µm","i":3,"x":-0.01794,"y":2.48},{"c":"C2","g":"BF 180 µm","i":4,"x":-0.01674,"y":2.48},{"c":"C2","g":"BF 180 µm","i":5,"x":-0.01572,"y":2.54},{"c":"C2","g":"BF 180 µm","i":6,"x":-0.01497,"y":2.54},{"c":"C2","g":"BF 180 µm","i":7,"x":-0.01408,"y":2.08},{"c":"C2","g":"BF 180 µm","i":8,"x":-0.01337,"y":1.35},{"c":"C2","g":"BF 180 µm","i":9,"x":-0.01275,"y":0.39},{"c":"C2","g":"BF 180 µm","i":10,"x":-0.0124,"y":-0.56},{"c":"C2","g":"BF 180 µm","i":11,"x":-0.0122,"y":-1.3},{"c":"C2","g":"BF 180 µm","i":12,"x":-0.01217,"y":-2.03},{"c":"C2","g":"BF 180 µm","i":13,"x":-0.0129,"y":-2.75},{"c":"C2","g":"BF 180 µm","i":14,"x":-0.0139,"y":-3.45},{"c":"C2","g":"BF 180 µm","i":15,"x":-0.015,"y":-4.05},{"c":"C2","g":"BF 180 µm","i":16,"x":-0.0159,"y":-4.15},{"c":"C2","g":"BF 180 µm","i":17,"x":-0.0169,"y":-3.85},{"c":"C2","g":"BF 180 µm","i":18,"x":-0.01794,"y":-3.0},{"c":"C2","g":"BF 180 µm","i":19,"x":-0.0187,"y":-2.25},{"c":"C2","g":"BF 180 µm","i":20,"x":-0.01905,"y":-1.3},
      {"c":"C3","g":"BF 180 µm","i":0,"x":-0.01852,"y":0.0},{"c":"C3","g":"BF 180 µm","i":1,"x":-0.01845,"y":1.2},{"c":"C3","g":"BF 180 µm","i":2,"x":-0.018,"y":1.85},{"c":"C3","g":"BF 180 µm","i":3,"x":-0.017,"y":2.08},{"c":"C3","g":"BF 180 µm","i":4,"x":-0.016,"y":2.1},{"c":"C3","g":"BF 180 µm","i":5,"x":-0.01528,"y":2.05},{"c":"C3","g":"BF 180 µm","i":6,"x":-0.01439,"y":1.35},{"c":"C3","g":"BF 180 µm","i":7,"x":-0.01381,"y":0.39},{"c":"C3","g":"BF 180 µm","i":8,"x":-0.01337,"y":-0.56},{"c":"C3","g":"BF 180 µm","i":9,"x":-0.01306,"y":-1.3},{"c":"C3","g":"BF 180 µm","i":10,"x":-0.013,"y":-2.03},{"c":"C3","g":"BF 180 µm","i":11,"x":-0.0138,"y":-2.8},{"c":"C3","g":"BF 180 µm","i":12,"x":-0.015,"y":-3.4},{"c":"C3","g":"BF 180 µm","i":13,"x":-0.0162,"y":-3.5},{"c":"C3","g":"BF 180 µm","i":14,"x":-0.0174,"y":-3.15},{"c":"C3","g":"BF 180 µm","i":15,"x":-0.0182,"y":-2.3},{"c":"C3","g":"BF 180 µm","i":16,"x":-0.0185,"y":-1.2},
      {"c":"C4","g":"BF 180 µm","i":0,"x":-0.01803,"y":0.0},{"c":"C4","g":"BF 180 µm","i":1,"x":-0.01795,"y":0.95},{"c":"C4","g":"BF 180 µm","i":2,"x":-0.0175,"y":1.45},{"c":"C4","g":"BF 180 µm","i":3,"x":-0.0166,"y":1.62},{"c":"C4","g":"BF 180 µm","i":4,"x":-0.0156,"y":1.62},{"c":"C4","g":"BF 180 µm","i":5,"x":-0.0149,"y":1.3},{"c":"C4","g":"BF 180 µm","i":6,"x":-0.01452,"y":0.56},{"c":"C4","g":"BF 180 µm","i":7,"x":-0.0142,"y":-0.56},{"c":"C4","g":"BF 180 µm","i":8,"x":-0.0139,"y":-1.69},{"c":"C4","g":"BF 180 µm","i":9,"x":-0.0144,"y":-2.4},{"c":"C4","g":"BF 180 µm","i":10,"x":-0.0154,"y":-2.82},{"c":"C4","g":"BF 180 µm","i":11,"x":-0.0166,"y":-2.84},{"c":"C4","g":"BF 180 µm","i":12,"x":-0.0176,"y":-2.4},{"c":"C4","g":"BF 180 µm","i":13,"x":-0.01805,"y":-1.3},
      {"c":"C5","g":"BF 180 µm","i":0,"x":-0.01759,"y":-0.56},{"c":"C5","g":"BF 180 µm","i":1,"x":-0.0175,"y":0.56},{"c":"C5","g":"BF 180 µm","i":2,"x":-0.0172,"y":1.15},{"c":"C5","g":"BF 180 µm","i":3,"x":-0.01674,"y":1.38},{"c":"C5","g":"BF 180 µm","i":4,"x":-0.01572,"y":1.38},{"c":"C5","g":"BF 180 µm","i":5,"x":-0.015,"y":1.12},{"c":"C5","g":"BF 180 µm","i":6,"x":-0.0147,"y":0.39},{"c":"C5","g":"BF 180 µm","i":7,"x":-0.01455,"y":-0.56},{"c":"C5","g":"BF 180 µm","i":8,"x":-0.01461,"y":-1.3},{"c":"C5","g":"BF 180 µm","i":9,"x":-0.015,"y":-2.0},{"c":"C5","g":"BF 180 µm","i":10,"x":-0.01585,"y":-2.2},{"c":"C5","g":"BF 180 µm","i":11,"x":-0.01692,"y":-2.1},{"c":"C5","g":"BF 180 µm","i":12,"x":-0.01741,"y":-1.46},
      {"c":"C6","g":"BF 180 µm","i":0,"x":-0.0164,"y":0.62},{"c":"C6","g":"BF 180 µm","i":1,"x":-0.0157,"y":0.62},{"c":"C6","g":"BF 180 µm","i":2,"x":-0.01545,"y":0.0},{"c":"C6","g":"BF 180 µm","i":3,"x":-0.01535,"y":-0.6},{"c":"C6","g":"BF 180 µm","i":4,"x":-0.0155,"y":-0.95},{"c":"C6","g":"BF 180 µm","i":5,"x":-0.0161,"y":-1.12},{"c":"C6","g":"BF 180 µm","i":6,"x":-0.0167,"y":-1.02},{"c":"C6","g":"BF 180 µm","i":7,"x":-0.01678,"y":-0.3},{"c":"C6","g":"BF 180 µm","i":8,"x":-0.0167,"y":0.3},
      {"c":"L1","g":"BF 530 µm","i":0,"x":-0.0123,"y":-1.05},{"c":"L1","g":"BF 530 µm","i":1,"x":-0.0109,"y":-1.15},{"c":"L1","g":"BF 530 µm","i":2,"x":-0.0095,"y":-1.45},{"c":"L1","g":"BF 530 µm","i":3,"x":-0.0082,"y":-1.95},{"c":"L1","g":"BF 530 µm","i":4,"x":-0.0073,"y":-2.8},{"c":"L1","g":"BF 530 µm","i":5,"x":-0.00686,"y":-3.7},{"c":"L1","g":"BF 530 µm","i":6,"x":-0.00695,"y":-4.55},{"c":"L1","g":"BF 530 µm","i":7,"x":-0.00742,"y":-5.6},{"c":"L1","g":"BF 530 µm","i":8,"x":-0.00804,"y":-6.5},{"c":"L1","g":"BF 530 µm","i":9,"x":-0.00875,"y":-7.55},{"c":"L1","g":"BF 530 µm","i":10,"x":-0.00975,"y":-8.35},{"c":"L1","g":"BF 530 µm","i":11,"x":-0.0112,"y":-8.35},{"c":"L1","g":"BF 530 µm","i":12,"x":-0.0129,"y":-8.1},{"c":"L1","g":"BF 530 µm","i":13,"x":-0.0135,"y":-7.5},{"c":"L1","g":"BF 530 µm","i":14,"x":-0.01452,"y":-6.76},{"c":"L1","g":"BF 530 µm","i":15,"x":-0.01514,"y":-5.63},{"c":"L1","g":"BF 530 µm","i":16,"x":-0.01514,"y":-4.5},{"c":"L1","g":"BF 530 µm","i":17,"x":-0.0147,"y":-3.72},{"c":"L1","g":"BF 530 µm","i":18,"x":-0.01394,"y":-2.99},{"c":"L1","g":"BF 530 µm","i":19,"x":-0.01306,"y":-2.03},
      {"c":"L2","g":"BF 530 µm","i":0,"x":-0.00755,"y":-4.44},{"c":"L2","g":"BF 530 µm","i":1,"x":-0.00809,"y":-2.14},{"c":"L2","g":"BF 530 µm","i":2,"x":-0.01055,"y":-1.64},{"c":"L2","g":"BF 530 µm","i":3,"x":-0.01299,"y":-2.59},{"c":"L2","g":"BF 530 µm","i":4,"x":-0.01425,"y":-4.44},{"c":"L2","g":"BF 530 µm","i":5,"x":-0.01373,"y":-7.19},{"c":"L2","g":"BF 530 µm","i":6,"x":-0.01055,"y":-7.64},{"c":"L2","g":"BF 530 µm","i":7,"x":-0.00809,"y":-7.0},
      {"c":"L3","g":"BF 530 µm","i":0,"x":-0.00805,"y":-4.44},{"c":"L3","g":"BF 530 µm","i":1,"x":-0.00855,"y":-2.48},{"c":"L3","g":"BF 530 µm","i":2,"x":-0.01055,"y":-1.99},{"c":"L3","g":"BF 530 µm","i":3,"x":-0.01259,"y":-2.77},{"c":"L3","g":"BF 530 µm","i":4,"x":-0.01355,"y":-4.44},{"c":"L3","g":"BF 530 µm","i":5,"x":-0.0131,"y":-6.74},{"c":"L3","g":"BF 530 µm","i":6,"x":-0.01055,"y":-7.14},{"c":"L3","g":"BF 530 µm","i":7,"x":-0.00855,"y":-6.6},
      {"c":"L4","g":"BF 530 µm","i":0,"x":-0.0085,"y":-4.44},{"c":"L4","g":"BF 530 µm","i":1,"x":-0.00895,"y":-2.76},{"c":"L4","g":"BF 530 µm","i":2,"x":-0.01055,"y":-2.29},{"c":"L4","g":"BF 530 µm","i":3,"x":-0.01225,"y":-2.94},{"c":"L4","g":"BF 530 µm","i":4,"x":-0.01298,"y":-4.44},{"c":"L4","g":"BF 530 µm","i":5,"x":-0.01262,"y":-6.48},{"c":"L4","g":"BF 530 µm","i":6,"x":-0.01055,"y":-6.84},{"c":"L4","g":"BF 530 µm","i":7,"x":-0.00895,"y":-6.31},
      {"c":"L5","g":"BF 530 µm","i":0,"x":-0.00873,"y":-4.44},{"c":"L5","g":"BF 530 µm","i":1,"x":-0.00915,"y":-2.98},{"c":"L5","g":"BF 530 µm","i":2,"x":-0.01055,"y":-2.54},{"c":"L5","g":"BF 530 µm","i":3,"x":-0.01204,"y":-3.11},{"c":"L5","g":"BF 530 µm","i":4,"x":-0.01268,"y":-4.44},{"c":"L5","g":"BF 530 µm","i":5,"x":-0.01232,"y":-6.2},{"c":"L5","g":"BF 530 µm","i":6,"x":-0.01055,"y":-6.56},{"c":"L5","g":"BF 530 µm","i":7,"x":-0.00915,"y":-6.07},
      {"c":"L6","g":"BF 530 µm","i":0,"x":-0.00895,"y":-4.44},{"c":"L6","g":"BF 530 µm","i":1,"x":-0.00935,"y":-3.17},{"c":"L6","g":"BF 530 µm","i":2,"x":-0.01055,"y":-2.74},{"c":"L6","g":"BF 530 µm","i":3,"x":-0.01188,"y":-3.22},{"c":"L6","g":"BF 530 µm","i":4,"x":-0.0124,"y":-4.44},{"c":"L6","g":"BF 530 µm","i":5,"x":-0.01203,"y":-5.94},{"c":"L6","g":"BF 530 µm","i":6,"x":-0.01055,"y":-6.32},{"c":"L6","g":"BF 530 µm","i":7,"x":-0.00935,"y":-5.85},
      {"c":"L7","g":"BF 530 µm","i":0,"x":-0.00915,"y":-4.44},{"c":"L7","g":"BF 530 µm","i":1,"x":-0.0095,"y":-3.32},{"c":"L7","g":"BF 530 µm","i":2,"x":-0.01055,"y":-2.94},{"c":"L7","g":"BF 530 µm","i":3,"x":-0.01169,"y":-3.36},{"c":"L7","g":"BF 530 µm","i":4,"x":-0.01213,"y":-4.44},{"c":"L7","g":"BF 530 µm","i":5,"x":-0.01181,"y":-5.74},{"c":"L7","g":"BF 530 µm","i":6,"x":-0.01055,"y":-6.07},{"c":"L7","g":"BF 530 µm","i":7,"x":-0.0095,"y":-5.66},
      {"c":"L8","g":"BF 530 µm","i":0,"x":-0.00937,"y":-4.44},{"c":"L8","g":"BF 530 µm","i":1,"x":-0.00967,"y":-3.47},{"c":"L8","g":"BF 530 µm","i":2,"x":-0.01055,"y":-3.14},{"c":"L8","g":"BF 530 µm","i":3,"x":-0.01151,"y":-3.5},{"c":"L8","g":"BF 530 µm","i":4,"x":-0.01188,"y":-4.44},{"c":"L8","g":"BF 530 µm","i":5,"x":-0.01161,"y":-5.56},{"c":"L8","g":"BF 530 µm","i":6,"x":-0.01055,"y":-5.84},{"c":"L8","g":"BF 530 µm","i":7,"x":-0.00967,"y":-5.49},
      {"c":"L9","g":"BF 530 µm","i":0,"x":-0.00956,"y":-4.44},{"c":"L9","g":"BF 530 µm","i":1,"x":-0.00982,"y":-3.63},{"c":"L9","g":"BF 530 µm","i":2,"x":-0.01055,"y":-3.34},{"c":"L9","g":"BF 530 µm","i":3,"x":-0.01136,"y":-3.63},{"c":"L9","g":"BF 530 µm","i":4,"x":-0.01165,"y":-4.44},{"c":"L9","g":"BF 530 µm","i":5,"x":-0.01141,"y":-5.36},{"c":"L9","g":"BF 530 µm","i":6,"x":-0.01055,"y":-5.62},{"c":"L9","g":"BF 530 µm","i":7,"x":-0.00982,"y":-5.31},
      {"c":"L10","g":"BF 530 µm","i":0,"x":-0.00974,"y":-4.44},{"c":"L10","g":"BF 530 µm","i":1,"x":-0.00996,"y":-3.77},{"c":"L10","g":"BF 530 µm","i":2,"x":-0.01055,"y":-3.52},{"c":"L10","g":"BF 530 µm","i":3,"x":-0.01119,"y":-3.77},{"c":"L10","g":"BF 530 µm","i":4,"x":-0.01143,"y":-4.44},{"c":"L10","g":"BF 530 µm","i":5,"x":-0.01119,"y":-5.16},{"c":"L10","g":"BF 530 µm","i":6,"x":-0.01055,"y":-5.42},{"c":"L10","g":"BF 530 µm","i":7,"x":-0.00996,"y":-5.16},
      {"c":"L11","g":"BF 530 µm","i":0,"x":-0.0099,"y":-4.44},{"c":"L11","g":"BF 530 µm","i":1,"x":-0.01008,"y":-3.92},{"c":"L11","g":"BF 530 µm","i":2,"x":-0.01055,"y":-3.72},{"c":"L11","g":"BF 530 µm","i":3,"x":-0.01103,"y":-3.92},{"c":"L11","g":"BF 530 µm","i":4,"x":-0.01121,"y":-4.44},{"c":"L11","g":"BF 530 µm","i":5,"x":-0.01103,"y":-4.98},{"c":"L11","g":"BF 530 µm","i":6,"x":-0.01055,"y":-5.19},{"c":"L11","g":"BF 530 µm","i":7,"x":-0.01008,"y":-4.98},
      {"c":"L12","g":"BF 530 µm","i":0,"x":-0.01008,"y":-4.44},{"c":"L12","g":"BF 530 µm","i":1,"x":-0.01021,"y":-4.08},{"c":"L12","g":"BF 530 µm","i":2,"x":-0.01055,"y":-3.94},{"c":"L12","g":"BF 530 µm","i":3,"x":-0.01087,"y":-4.08},{"c":"L12","g":"BF 530 µm","i":4,"x":-0.011,"y":-4.44},{"c":"L12","g":"BF 530 µm","i":5,"x":-0.01087,"y":-4.8},{"c":"L12","g":"BF 530 µm","i":6,"x":-0.01055,"y":-4.94},{"c":"L12","g":"BF 530 µm","i":7,"x":-0.01021,"y":-4.8},
      {"c":"L13","g":"BF 530 µm","i":0,"x":-0.0103,"y":-4.44},{"c":"L13","g":"BF 530 µm","i":1,"x":-0.01037,"y":-4.24},{"c":"L13","g":"BF 530 µm","i":2,"x":-0.01055,"y":-4.16},{"c":"L13","g":"BF 530 µm","i":3,"x":-0.01072,"y":-4.24},{"c":"L13","g":"BF 530 µm","i":4,"x":-0.01079,"y":-4.44},{"c":"L13","g":"BF 530 µm","i":5,"x":-0.01072,"y":-4.64},{"c":"L13","g":"BF 530 µm","i":6,"x":-0.01055,"y":-4.72},{"c":"L13","g":"BF 530 µm","i":7,"x":-0.01037,"y":-4.64}
    ]
  },
  "hconcat": [
    {
      "width": 560,
      "height": 376,
      "title": {"text": "(a)", "orient": "bottom", "anchor": "middle", "offset": 6},
      "resolve": {"axis": {"x": "independent"}},
      "layer": [
        {
          "data": {"name": "scatter"},
          "mark": {"type": "point", "filled": true, "strokeWidth": 1.4, "opacity": 1},
          "encoding": {
            "x": {"field": "x", "type": "quantitative", "scale": {"domain": [-0.025, 0], "nice": false, "zero": false},
              "axis": {"values": [-0.025, -0.02, -0.015, -0.01, -0.005, 0], "format": ".3~f", "title": "Discriminant Axis 1 (95 %)", "labelPadding": 10, "titlePadding": 3}},
            "y": {"field": "y", "type": "quantitative", "scale": {"domain": [-15, 6], "nice": false, "zero": false},
              "axis": {"values": [-15, -10, -5, 0, 5], "format": "d", "title": "Discriminant Axis 2 (5 %)", "labelPadding": 1, "titlePadding": 7}},
            "fill": {"field": "g", "type": "nominal",
              "scale": {"domain": ["Healthy", "BF 180 µm", "BF 530 µm"], "range": ["#0a8a0a", "transparent", "#000000"]},
              "legend": {"orient": "none", "legendX": 375, "legendY": 274, "title": null,
                "labelFont": "Liberation Sans", "labelFontSize": 21, "labelFontWeight": "bold", "labelColor": "#111",
                "padding": 6, "rowPadding": 7, "symbolOffset": 10, "labelOffset": 14,
                "strokeColor": "#333", "fillColor": "white", "symbolStrokeWidth": 1.3}},
            "stroke": {"field": "g", "type": "nominal",
              "scale": {"domain": ["Healthy", "BF 180 µm", "BF 530 µm"], "range": ["#0a8a0a", "#ff1010", "#000000"]}},
            "shape": {"field": "g", "type": "nominal",
              "scale": {"domain": ["Healthy", "BF 180 µm", "BF 530 µm"], "range": ["circle", "M-1,0L1,0M0,-1L0,1M-0.7,-0.7L0.7,0.7M-0.7,0.7L0.7,-0.7", "circle"]}},
            "size": {"field": "g", "type": "nominal",
              "scale": {"domain": ["Healthy", "BF 180 µm", "BF 530 µm"], "range": [40, 64, 56]}}
          }
        },
        {
          "data": {"name": "ring"},
          "mark": {"type": "line", "interpolate": "cardinal-closed", "stroke": "#333", "strokeWidth": 1},
          "encoding": {
            "x": {"field": "x", "type": "quantitative",
              "axis": {"orient": "top", "title": "x 10⁻³", "labels": false, "ticks": false, "domain": false, "grid": false,
                "titleAnchor": "start", "titleAlign": "left", "titleBaseline": "alphabetic", "titleX": 0, "titleY": -5,
                "titleFontSize": 19, "titleFontWeight": "bold"}},
            "y": {"field": "y", "type": "quantitative"},
            "order": {"field": "i", "type": "quantitative"}
          }
        },
        {
          "data": {"values": [{"x": -0.00272, "y": 0.79, "t": "Healthy"}]},
          "mark": {"type": "text", "font": "Liberation Sans", "fontSize": 19, "color": "#111", "align": "center", "baseline": "middle"},
          "encoding": {
            "x": {"field": "x", "type": "quantitative", "axis": null},
            "y": {"field": "y", "type": "quantitative"},
            "text": {"field": "t"}
          }
        }
      ]
    },
    {
      "width": 568,
      "height": 382,
      "view": {"stroke": null},
      "title": {"text": "(b)", "orient": "bottom", "anchor": "middle", "offset": 2},
      "resolve": {"axis": {"x": "independent"}, "scale": {"stroke": "independent"}, "legend": {"stroke": "independent"}},
      "layer": [
        {
          "data": {"values": [{"v": -0.02}, {"v": -0.015}, {"v": -0.01}, {"v": -0.005}]},
          "mark": {"type": "rule", "color": "#333", "strokeDash": [1, 2], "strokeWidth": 1},
          "encoding": {
            "x": {"field": "v", "type": "quantitative", "axis": null},
            "y": {"datum": -15},
            "y2": {"datum": 6}
          }
        },
        {
          "data": {"name": "contours"},
          "mark": {"type": "line", "interpolate": "cardinal-closed", "strokeWidth": 1.4},
          "encoding": {
            "x": {"field": "x", "type": "quantitative", "scale": {"domain": [-0.025, 0], "nice": false, "zero": false},
              "axis": {"values": [-0.025, -0.02, -0.015, -0.01, -0.005, 0], "format": ".3~f", "title": "Discriminant Axis 1 (95 %)", "labelPadding": 10, "titlePadding": 7, "grid": false}},
            "y": {"field": "y", "type": "quantitative", "scale": {"domain": [-15, 6.565], "nice": false, "zero": false},
              "axis": {"values": [-15, -10, -5, 0, 5], "format": "d", "title": "Discriminant Axis 2 (5 %)", "labelPadding": 1, "titlePadding": 11}},
            "order": {"field": "i", "type": "quantitative"},
            "color": {"field": "c", "type": "nominal", "legend": null,
              "scale": {"domain": ["C1","C2","C3","C4","C5","C6","L1","L2","L3","L4","L5","L6","L7","L8","L9","L10","L11","L12","L13"],
                "range": ["#14148c","#1818d2","#2a55f2","#0a8cff","#12d6d0","#86e86e","#10107a","#0000d4","#002bff","#0080ff","#00d4ff","#2bffd4","#80ff80","#d4ff2b","#ffd400","#ff8000","#ff2b00","#d40000","#800000"]}},
            "strokeDash": {"field": "g", "type": "nominal", "legend": null,
              "scale": {"domain": ["BF 180 µm", "BF 530 µm"], "range": [[8, 2, 1.5, 2], [1, 0]]}}
          }
        },
        {
          "data": {"values": [{"fx": -0.025, "fx2": -0.025, "y": -15, "y2": 6}, {"fx": 0, "fx2": 0, "y": -15, "y2": 6}, {"fx": -0.025, "fx2": 0, "y": 6, "y2": 6}, {"fx": -0.025, "fx2": 0, "y": -15, "y2": -15}]},
          "mark": {"type": "rule", "color": "#1a1a1a", "strokeWidth": 1},
          "encoding": {
            "x": {"field": "fx", "type": "quantitative", "axis": null},
            "x2": {"field": "fx2"},
            "y": {"field": "y", "type": "quantitative"},
            "y2": {"field": "y2"}
          }
        },
        {
          "data": {"name": "contours"},
          "transform": [{"filter": "datum.i < 0"}],
          "mark": {"type": "line", "strokeWidth": 1.5},
          "encoding": {
            "x": {"field": "x", "type": "quantitative", "axis": null},
            "y": {"field": "y", "type": "quantitative"},
            "stroke": {"field": "g", "type": "nominal",
              "scale": {"domain": ["BF 180 µm", "BF 530 µm"], "range": ["#1a1a88", "#1a1a88"]},
              "legend": {"orient": "none", "legendX": 354, "legendY": 308, "title": null,
                "symbolType": "M-1.59,0A1.59,1 0 1,1 1.59,0A1.59,1 0 1,1 -1.59,0Z", "symbolSize": 484, "symbolStrokeWidth": 1.5,
                "symbolFillColor": "transparent", "symbolOpacity": 1, "symbolDash": [1, 0],
                "labelFont": "Liberation Sans", "labelFontSize": 21, "labelFontWeight": "bold", "labelColor": "#111",
                "padding": 6, "rowPadding": 1, "symbolOffset": 7, "labelOffset": 24,
                "strokeColor": "#333", "fillColor": "white"}}
          }
        },
        {
          "data": {"name": "contours"},
          "transform": [{"filter": "datum.i < 0"}],
          "mark": {"type": "line", "strokeWidth": 1.5},
          "encoding": {
            "x": {"field": "x", "type": "quantitative", "axis": null},
            "y": {"field": "y", "type": "quantitative"},
            "stroke": {"field": "g", "type": "nominal",
              "scale": {"domain": ["BF 180 µm", "BF 530 µm"], "range": ["#2a6cf5", "#6fe06f"]},
              "legend": {"orient": "none", "legendX": 354, "legendY": 308, "title": null,
                "symbolType": "M-1.14,0A1.14,0.59 0 1,1 1.14,0A1.14,0.59 0 1,1 -1.14,0Z", "symbolSize": 484, "symbolStrokeWidth": 1.5,
                "symbolFillColor": "transparent", "symbolOpacity": 1, "symbolDash": [1, 0],
                "labelFont": "Liberation Sans", "labelFontSize": 21, "labelFontWeight": "bold", "labelOpacity": 0,
                "padding": 6, "rowPadding": 1, "symbolOffset": 7, "labelOffset": 24}}
          }
        },
        {
          "data": {"name": "contours"},
          "transform": [{"filter": "datum.i < 0"}],
          "mark": {"type": "line", "strokeWidth": 1.5},
          "encoding": {
            "x": {"field": "x", "type": "quantitative", "axis": null},
            "y": {"field": "y", "type": "quantitative"},
            "stroke": {"field": "g", "type": "nominal",
              "scale": {"domain": ["BF 180 µm", "BF 530 µm"], "range": ["#6fe06f", "#8b1010"]},
              "legend": {"orient": "none", "legendX": 354, "legendY": 308, "title": null,
                "symbolType": "M-0.59,0A0.59,0.32 0 1,1 0.59,0A0.59,0.32 0 1,1 -0.59,0Z", "symbolSize": 484, "symbolStrokeWidth": 1.5,
                "symbolFillColor": "transparent", "symbolOpacity": 1, "symbolDash": [1, 0],
                "labelFont": "Liberation Sans", "labelFontSize": 21, "labelFontWeight": "bold", "labelOpacity": 0,
                "padding": 6, "rowPadding": 1, "symbolOffset": 7, "labelOffset": 24}}
          }
        },
        {
          "data": {"values": [{"x": -0.0197, "y": 3.82, "t": "BF 180"}, {"x": -0.00702, "y": -1.32, "t": "BF 530"}]},
          "mark": {"type": "text", "font": "Liberation Sans", "fontSize": 19, "color": "#111", "align": "center", "baseline": "middle"},
          "encoding": {
            "x": {"field": "x", "type": "quantitative",
              "axis": {"orient": "top", "title": "x 10⁻³", "labels": false, "ticks": false, "domain": false, "grid": false,
                "titleAnchor": "start", "titleAlign": "left", "titleBaseline": "alphabetic", "titleX": 0, "titleY": 5,
                "titleFontSize": 19, "titleFontWeight": "bold"}},
            "y": {"field": "y", "type": "quantitative"},
            "text": {"field": "t"}
          }
        }
      ]
    }
  ]
}
